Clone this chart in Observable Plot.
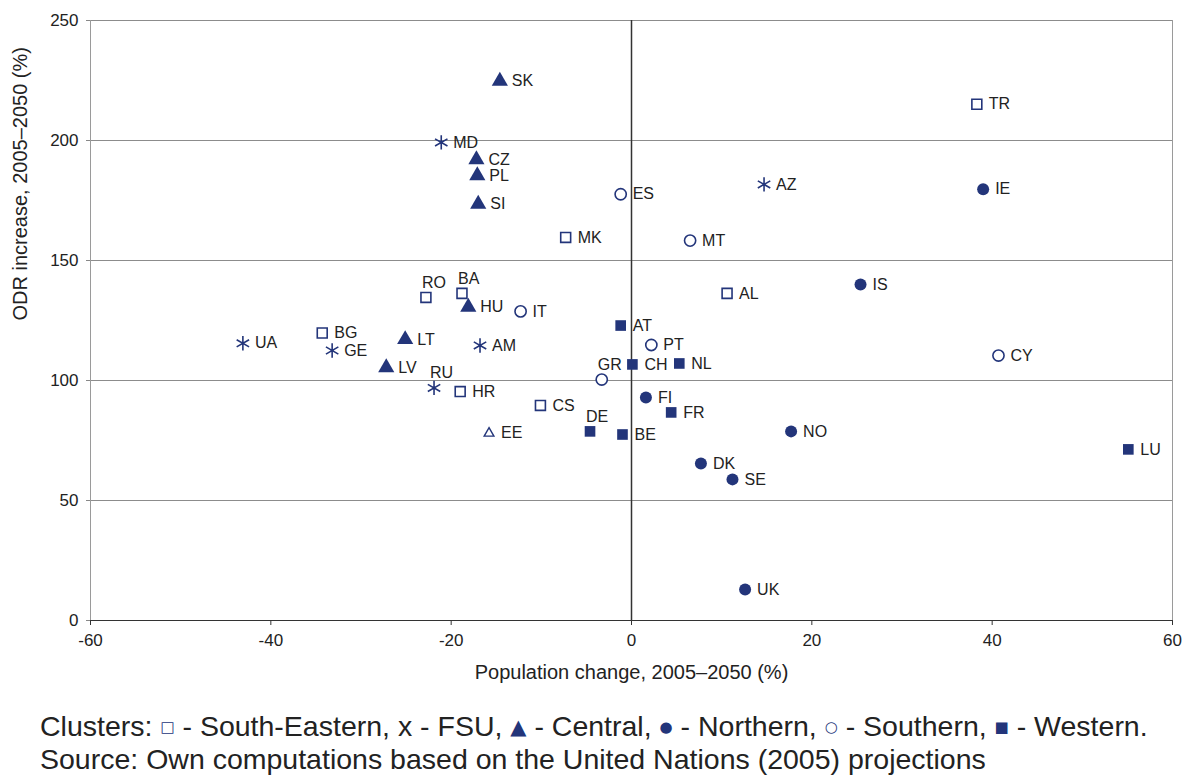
<!DOCTYPE html>
<html>
<head>
<meta charset="utf-8">
<script src="https://cdn.jsdelivr.net/npm/d3@7"></script>
<script src="https://cdn.jsdelivr.net/npm/@observablehq/plot@0.6"></script>
<style>
  body { margin: 0; background: #fff; font-family: "Liberation Sans", Arial, sans-serif; }
  #chart svg { display: block; }
  .caption { padding: 10px 0 0 40px; font-size: 28.5px; line-height: 32px; color: #222; white-space: nowrap; }
  .sym { color: #23357a; font-family: "DejaVu Sans", sans-serif; font-size: 15px; vertical-align: 4px; }
</style>
</head>
<body>
<div id="chart"></div>
<div class="caption">
  <div>Clusters: <span class="sym">□</span> - South-Eastern, x - FSU, <span class="sym" style="font-size:21px;vertical-align:2px">▲</span> - Central, <span class="sym">●</span> - Northern, <span class="sym">○</span> - Southern, <span class="sym">■</span> - Western.</div>
  <div>Source: Own computations based on the United Nations (2005) projections</div>
</div>
<script>
const countries = ["SK","MD","CZ","PL","SI","ES","MK","MT","AZ","TR","IE","IS","AL","CY","RO","BA","HU","IT","BG","UA","GE","LT","AM","LV","RU","HR","CS","EE","AT","PT","GR","CH","NL","FI","FR","DE","BE","NO","DK","SE","UK","LU"];
const popChange = [-14.6,-21.1,-17.2,-17.1,-17.0,-1.2,-7.3,6.5,14.7,38.3,39.0,25.4,10.6,40.7,-22.8,-18.8,-18.1,-12.3,-34.3,-43.1,-33.2,-25.1,-16.8,-27.2,-21.9,-19.0,-10.1,-15.8,-1.2,2.2,-3.3,0.1,5.3,1.6,4.4,-4.6,-1.0,17.7,7.7,11.2,12.6,55.1];
const odrIncrease = [224.8,199.2,192.0,185.4,173.5,177.6,159.6,158.3,181.7,215.1,179.7,140.0,136.3,110.4,134.6,136.3,130.6,128.8,119.8,115.5,112.5,117.1,114.6,105.4,96.9,95.4,89.6,78.0,122.9,114.8,100.4,106.7,107.1,92.9,86.7,78.8,77.5,78.8,65.4,58.8,12.9,71.3];
const clusterOf = ["Central","FSU","Central","Central","Central","Southern","South-Eastern","Southern","FSU","South-Eastern","Northern","Northern","South-Eastern","Southern","South-Eastern","South-Eastern","Central","Southern","South-Eastern","FSU","FSU","Central","FSU","Central","FSU","South-Eastern","South-Eastern","Central","Western","Southern","Southern","Western","Western","Northern","Western","Western","Western","Northern","Northern","Northern","Northern","Western"];
const labelsAbove = ["RO","BA","GR","RU","DE"];
const hollowMarkers = ["EE"];

const clusters = ["South-Eastern","FSU","Central","Northern","Southern","Western"];
const clusterSymbols = ["square","asterisk","triangle","circle","circle","square"];
const clusterFilled = [false,false,true,true,false,true];
const xTicks = [-60,-40,-20,0,20,40,60];
const yTicks = [0,50,100,150,200,250];

const navy = "#23357a";
const data = countries.map((c, i) => ({
  name: c, x: popChange[i], y: odrIncrease[i], cluster: clusterOf[i],
  filled: clusterFilled[clusters.indexOf(clusterOf[i])] && !hollowMarkers.includes(c),
  small: hollowMarkers.includes(c),
  above: labelsAbove.includes(c)
}));

const chart = Plot.plot({
  width: 1187, height: 700,
  marginLeft: 90, marginRight: 15, marginTop: 20, marginBottom: 80,
  style: { fontFamily: "'Liberation Sans', Arial, sans-serif", fontSize: "16px", color: "#222", background: "#fff" },
  x: { domain: [-60, 60], label: null },
  y: { domain: [0, 250], label: null },
  symbol: { domain: clusters, range: clusterSymbols },
  marks: [
    Plot.ruleY(yTicks.slice(1), { stroke: "#8c8c8c", strokeWidth: 1 }),
    Plot.ruleX([-60, 60], { stroke: "#9a9a9a", strokeWidth: 1 }),
    Plot.ruleX([0], { stroke: "#333", strokeWidth: 1.5 }),
    Plot.ruleY([0], { stroke: "#333", strokeWidth: 1.2 }),
    Plot.axisX({ ticks: xTicks, tickFormat: d => String(d), tickSize: 5, tickPadding: 8, fontSize: 17, stroke: "#333", label: null }),
    Plot.axisY({ ticks: yTicks, tickFormat: d => String(d), tickSize: 4, tickPadding: 8, fontSize: 17, stroke: "#888", label: null }),
    Plot.text(["Population change, 2005–2050 (%)"], { frameAnchor: "bottom", dy: 58, fontSize: 20, fill: "#222" }),
    Plot.text(["ODR increase, 2005–2050 (%)"], { frameAnchor: "left", dx: -70, rotate: -90, fontSize: 20, fill: "#222" }),
    // open markers (squares, circles)
    Plot.dot(data.filter(d => !d.filled && d.cluster !== "FSU" && !d.small), {
      x: "x", y: "y", symbol: "cluster", r: 5.6, fill: "white", stroke: navy, strokeWidth: 1.6
    }),
    // small hollow triangle
    Plot.dot(data.filter(d => d.small), {
      x: "x", y: "y", symbol: "cluster", r: 3.6, fill: "white", stroke: navy, strokeWidth: 1.4
    }),
    // asterisks
    Plot.dot(data.filter(d => d.cluster === "FSU"), {
      x: "x", y: "y", symbol: "cluster", r: 6.8, stroke: navy, strokeWidth: 1.6
    }),
    // filled markers
    Plot.dot(data.filter(d => d.filled), {
      x: "x", y: "y", symbol: "cluster", r: 6, fill: navy, stroke: "none"
    }),
    Plot.text(data.filter(d => !d.above), {
      x: "x", y: "y", text: "name", textAnchor: "start", dx: 12, fontSize: 16, fill: "#222"
    }),
    Plot.text(data.filter(d => d.above), {
      x: "x", y: "y", text: "name", textAnchor: "start", dx: -4, dy: -15, fontSize: 16, fill: "#222"
    })
  ]
});
document.getElementById("chart").append(chart);
</script>
</body>
</html>
